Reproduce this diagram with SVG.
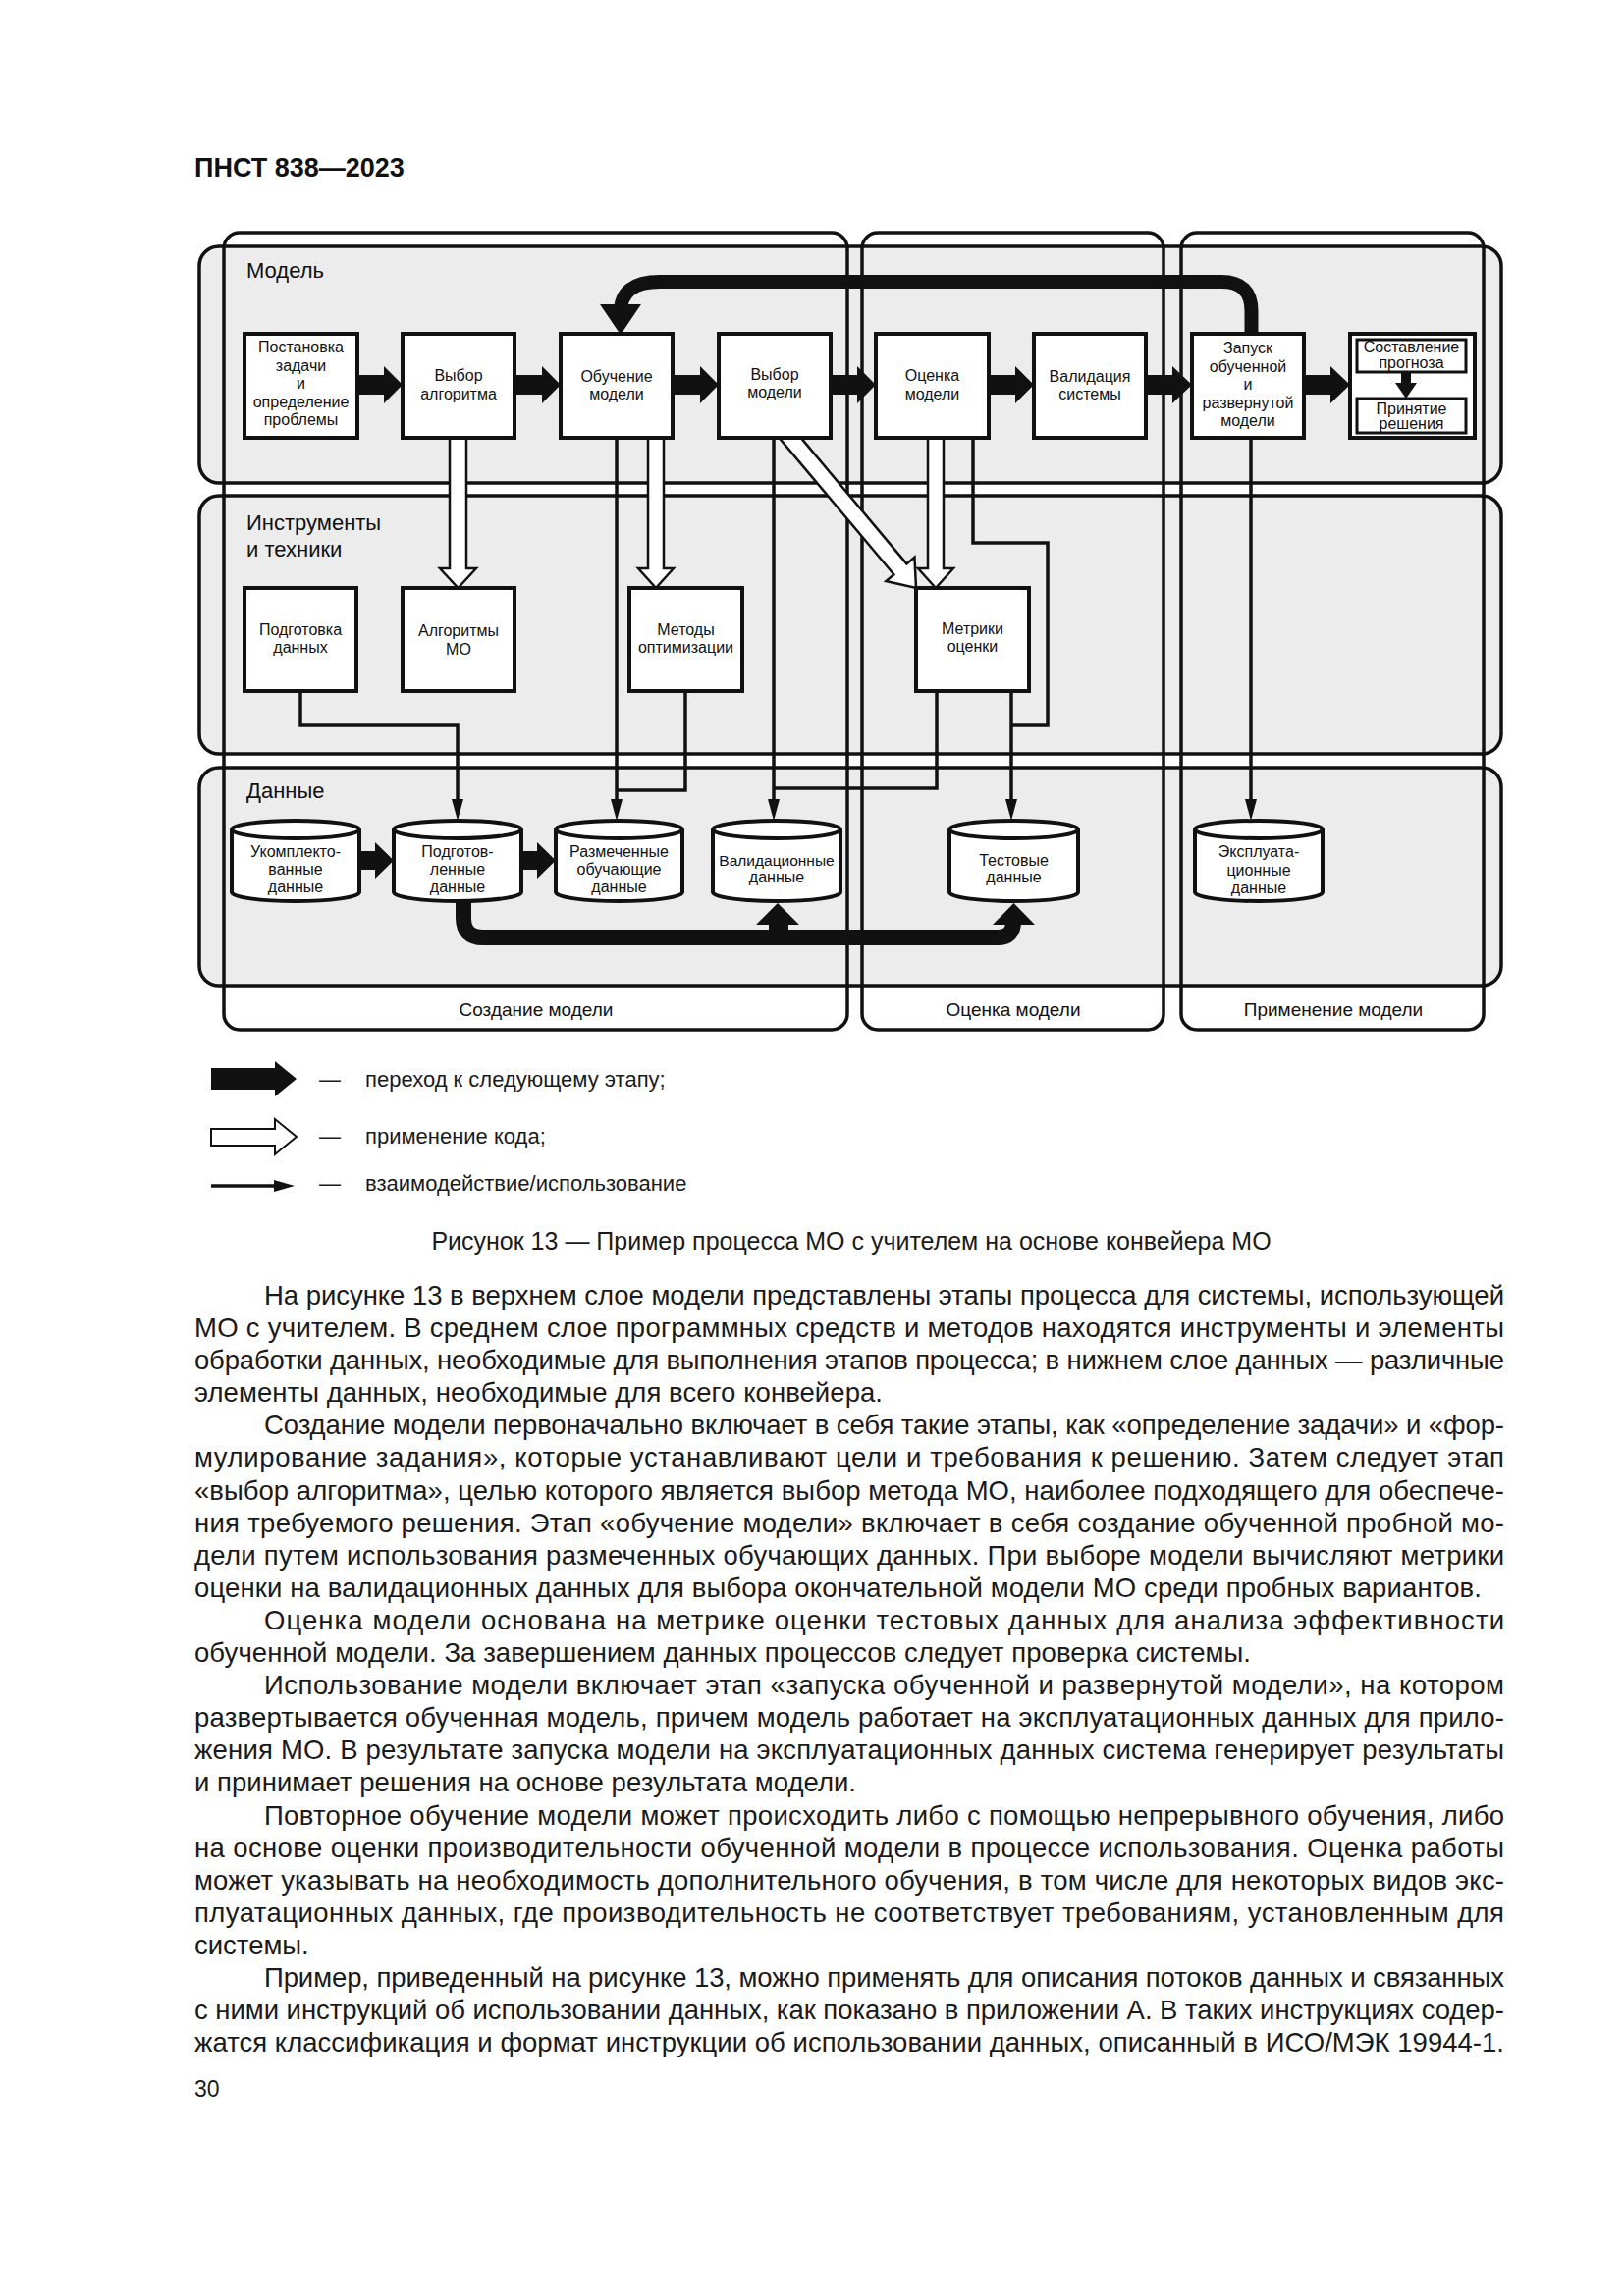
<svg xmlns="http://www.w3.org/2000/svg" width="1654" height="2339" viewBox="0 0 1654 2339">
<defs>
<style>
text{font-family:"Liberation Sans",Arial,"DejaVu Sans",sans-serif;fill:#111}
.colbg{fill:#fff;stroke:none}
.col{fill:none;stroke:#111;stroke-width:3.5}
.row{fill:#ececec;stroke:#111;stroke-width:3.5}
.box{fill:#fff;stroke:#111;stroke-width:4}
.ibox{fill:#fff;stroke:#111;stroke-width:3}
.cyl{fill:#fff;stroke:#111;stroke-width:4}
.cylt{fill:none;stroke:#111;stroke-width:4}
.lbl{font-size:16px;text-anchor:middle}
.big{font-size:22px}
.collbl{font-size:19px;text-anchor:middle}
.thick{fill:#111}
.hollow{fill:#fff;stroke:#111;stroke-width:2.5}
.thin{fill:none;stroke:#111;stroke-width:3.5;marker-end:url(#arr)}
.thinn{fill:none;stroke:#111;stroke-width:3.5}
.bar{fill:none;stroke:#111;stroke-width:14}
.bus{fill:none;stroke:#111;stroke-width:16}
.body{font-size:27.5px;fill:#1a1a1a}
.leg{font-size:22px;fill:#1a1a1a}
</style>
<marker id="arr" viewBox="0 0 22 12" markerWidth="22" markerHeight="12" refX="14" refY="6" orient="auto" markerUnits="userSpaceOnUse"><path d="M0,0 L22,6 L0,12 Z" fill="#111"/></marker>
</defs>
<rect width="1654" height="2339" fill="#fff"/>
<text x="198" y="180" style="font-size:27px;font-weight:bold">ПНСТ 838—2023</text>

<!-- layout: columns and rows -->
<g id="layout">
<rect class="colbg" x="228" y="237" width="635" height="812" rx="16"/>
<rect class="colbg" x="878" y="237" width="307" height="812" rx="16"/>
<rect class="colbg" x="1203" y="237" width="308" height="812" rx="16"/>
<rect class="row" x="203" y="251" width="1326" height="241" rx="20"/>
<rect class="row" x="203" y="505" width="1326" height="263" rx="20"/>
<rect class="row" x="203" y="782" width="1326" height="222" rx="20"/>
<rect class="col" x="228" y="237" width="635" height="812" rx="16"/>
<rect class="col" x="878" y="237" width="307" height="812" rx="16"/>
<rect class="col" x="1203" y="237" width="308" height="812" rx="16"/>
<text class="big" x="251" y="283">Модель</text>
<text class="big" x="251" y="540">Инструменты</text>
<text class="big" x="251" y="567">и техники</text>
<text class="big" x="251" y="813">Данные</text>
<text class="collbl" x="546" y="1035">Создание модели</text>
<text class="collbl" x="1032" y="1035">Оценка модели</text>
<text class="collbl" x="1358" y="1035">Применение модели</text>
</g>

<!-- connectors -->
<g id="connectors">
<path class="thin" d="M306,704 V739 H466 V828"/>
<path class="thin" d="M628,446 V828"/>
<path class="thinn" d="M698,704 V805 H628"/>
<path class="thin" d="M788,446 V828"/>
<path class="thinn" d="M954,704 V803 H788"/>
<path class="thinn" d="M991,446 V553 H1067 V739 H1030"/>
<path class="thin" d="M1030,704 V828"/>
<path class="thin" d="M1274,446 V828"/>
<path class="hollow" d="M458,444 H475 V579 H485 L466.5,599 L448,579 H458 Z"/>
<path class="hollow" d="M660,444 H676 V579 H686 L668,599 L650,579 H660 Z"/>
<path class="hollow" d="M945,444 H961 V579 H971 L953,599 L935,579 H945 Z"/>
<path class="hollow" transform="translate(933,599) rotate(-40)" d="M-8.5,-212 H8.5 V-25 H19 L0,0 L-19,-25 H-8.5 Z"/>
<polygon class="thick" points="364,382 391,382 391,373 410,392 391,411 391,402 364,402"/>
<polygon class="thick" points="524,382 552,382 552,373 571,392 552,411 552,402 524,402"/>
<polygon class="thick" points="685,382 713,382 713,373 732,392 713,411 713,402 685,402"/>
<polygon class="thick" points="846,382 873,382 873,373 892,392 873,411 873,402 846,402"/>
<polygon class="thick" points="1007,382 1034,382 1034,373 1053,392 1034,411 1034,402 1007,402"/>
<polygon class="thick" points="1167,382 1194,382 1194,373 1214,392 1194,411 1194,402 1167,402"/>
<polygon class="thick" points="1328,382 1355,382 1355,373 1375,392 1355,411 1355,402 1328,402"/>
<path class="bar" d="M1274.5,343 V317 Q1274.5,287 1244,287 H672 Q632,287 632,318"/>
<polygon class="thick" points="611,310 653,310 632,341"/>
<polygon class="thick" points="366,867 382,867 382,858 401,876.5 382,895 382,886 366,886"/>
<polygon class="thick" points="531,867 547,867 547,858 566,876.5 547,895 547,886 531,886"/>
<path class="bus" d="M472,912 V935 Q472,955 492,955 H1016 Q1032,955 1032,939"/>
<polygon class="thick" points="1011,942 1054,942 1032.5,920"/>
<rect class="thick" x="783" y="940" width="20" height="16"/>
<polygon class="thick" points="770,942 814,942 792,920"/>
</g>

<!-- model layer nodes -->
<g id="n-postanovka">
<rect class="box" x="249" y="340" width="115" height="106"/>
<text class="lbl" x="306.5" y="359">Постановка</text>
<text class="lbl" x="306.5" y="378">задачи</text>
<text class="lbl" x="306.5" y="396">и</text>
<text class="lbl" x="306.5" y="415">определение</text>
<text class="lbl" x="306.5" y="433">проблемы</text>
</g>
<g id="n-vybor-algoritma">
<rect class="box" x="410" y="340" width="114" height="106"/>
<text class="lbl" x="467" y="388">Выбор</text>
<text class="lbl" x="467" y="407">алгоритма</text>
</g>
<g id="n-obuchenie">
<rect class="box" x="571" y="340" width="114" height="106"/>
<text class="lbl" x="628" y="389">Обучение</text>
<text class="lbl" x="628" y="407">модели</text>
</g>
<g id="n-vybor-modeli">
<rect class="box" x="732" y="340" width="114" height="106"/>
<text class="lbl" x="789" y="387">Выбор</text>
<text class="lbl" x="789" y="405">модели</text>
</g>
<g id="n-ocenka">
<rect class="box" x="892" y="340" width="115" height="106"/>
<text class="lbl" x="949.5" y="388">Оценка</text>
<text class="lbl" x="949.5" y="407">модели</text>
</g>
<g id="n-validaciya">
<rect class="box" x="1053" y="340" width="114" height="106"/>
<text class="lbl" x="1110" y="389">Валидация</text>
<text class="lbl" x="1110" y="407">системы</text>
</g>
<g id="n-zapusk">
<rect class="box" x="1214" y="340" width="114" height="106"/>
<text class="lbl" x="1271" y="360">Запуск</text>
<text class="lbl" x="1271" y="379">обученной</text>
<text class="lbl" x="1271" y="397">и</text>
<text class="lbl" x="1271" y="416">развернутой</text>
<text class="lbl" x="1271" y="434">модели</text>
</g>
<g id="n-prognoz-reshenie">
<rect class="box" x="1375" y="340" width="127" height="106"/>
<rect class="ibox" x="1382" y="346" width="111" height="33"/>
<text class="lbl" x="1437.5" y="359">Составление</text>
<text class="lbl" x="1437.5" y="375">прогноза</text>
<polygon class="thick" points="1427,379 1437,379 1437,390 1443,390 1432,406 1421,390 1427,390"/>
<rect class="ibox" x="1382" y="406" width="111" height="35"/>
<text class="lbl" x="1437.5" y="422">Принятие</text>
<text class="lbl" x="1437.5" y="437">решения</text>
</g>

<!-- tools layer nodes -->
<g id="n-podgotovka">
<rect class="box" x="249" y="599" width="114" height="105"/>
<text class="lbl" x="306" y="647">Подготовка</text>
<text class="lbl" x="306" y="665">данных</text>
</g>
<g id="n-algoritmy">
<rect class="box" x="410" y="599" width="114" height="105"/>
<text class="lbl" x="467" y="648">Алгоритмы</text>
<text class="lbl" x="467" y="667">МО</text>
</g>
<g id="n-metody">
<rect class="box" x="641" y="599" width="115" height="105"/>
<text class="lbl" x="698.5" y="647">Методы</text>
<text class="lbl" x="698.5" y="665">оптимизации</text>
</g>
<g id="n-metriki">
<rect class="box" x="933" y="599" width="115" height="105"/>
<text class="lbl" x="990.5" y="646">Метрики</text>
<text class="lbl" x="990.5" y="664">оценки</text>
</g>

<!-- data layer nodes -->
<g id="n-ukomplekt">
<path class="cyl" d="M236,845 A65,9 0 0 1 366,845 V909 A65,9 0 0 1 236,909 Z"/>
<path class="cylt" d="M236,845 A65,9 0 0 0 366,845"/>
<text class="lbl" x="301" y="873">Укомплекто-</text>
<text class="lbl" x="301" y="891">ванные</text>
<text class="lbl" x="301" y="909">данные</text>
</g>
<g id="n-podgotovlennye">
<path class="cyl" d="M401,845 A65,9 0 0 1 531,845 V909 A65,9 0 0 1 401,909 Z"/>
<path class="cylt" d="M401,845 A65,9 0 0 0 531,845"/>
<text class="lbl" x="466" y="873">Подготов-</text>
<text class="lbl" x="466" y="891">ленные</text>
<text class="lbl" x="466" y="909">данные</text>
</g>
<g id="n-razmechennye">
<path class="cyl" d="M566,845 A64.5,9 0 0 1 695,845 V909 A64.5,9 0 0 1 566,909 Z"/>
<path class="cylt" d="M566,845 A64.5,9 0 0 0 695,845"/>
<text class="lbl" x="630.5" y="873">Размеченные</text>
<text class="lbl" x="630.5" y="891">обучающие</text>
<text class="lbl" x="630.5" y="909">данные</text>
</g>
<g id="n-validacionnye">
<path class="cyl" d="M726,845 A65,9 0 0 1 856,845 V909 A65,9 0 0 1 726,909 Z"/>
<path class="cylt" d="M726,845 A65,9 0 0 0 856,845"/>
<text class="lbl" x="791" y="882" style="font-size:15.5px">Валидационные</text>
<text class="lbl" x="791" y="899">данные</text>
</g>
<g id="n-testovye">
<path class="cyl" d="M967,845 A65.5,9 0 0 1 1098,845 V909 A65.5,9 0 0 1 967,909 Z"/>
<path class="cylt" d="M967,845 A65.5,9 0 0 0 1098,845"/>
<text class="lbl" x="1032.5" y="882">Тестовые</text>
<text class="lbl" x="1032.5" y="899">данные</text>
</g>
<g id="n-ekspluat">
<path class="cyl" d="M1217,845 A65,9 0 0 1 1347,845 V909 A65,9 0 0 1 1217,909 Z"/>
<path class="cylt" d="M1217,845 A65,9 0 0 0 1347,845"/>
<text class="lbl" x="1282" y="873">Эксплуата-</text>
<text class="lbl" x="1282" y="892">ционные</text>
<text class="lbl" x="1282" y="910">данные</text>
</g>

<!-- legend -->
<g id="legend">
<polygon class="thick" points="215,1088 280,1088 280,1081 302,1099 280,1117 280,1110 215,1110"/>
<text class="leg" x="325" y="1107">—</text>
<text class="leg" x="372" y="1107">переход к следующему этапу;</text>
<polygon class="hollow" style="stroke-width:2" points="215,1150 280,1150 280,1140 302,1158 280,1176 280,1167 215,1167"/>
<text class="leg" x="325" y="1165">—</text>
<text class="leg" x="372" y="1165">применение кода;</text>
<line x1="215" y1="1208" x2="282" y2="1208" stroke="#111" stroke-width="3.5"/>
<polygon class="thick" points="279,1202 300,1208 279,1214"/>
<text class="leg" x="325" y="1213">—</text>
<text class="leg" x="372" y="1213">взаимодействие/использование</text>
</g>
<text x="867" y="1273" style="font-size:25px;text-anchor:middle;fill:#1a1a1a">Рисунок 13 — Пример процесса МО с учителем на основе конвейера МО</text>

<!-- body text -->
<g id="bodytext" class="body">
<text class="body" x="269" y="1329" textLength="1263" lengthAdjust="spacing">На рисунке 13 в верхнем слое модели представлены этапы процесса для системы, использующей</text>
<text class="body" x="198" y="1362" textLength="1334" lengthAdjust="spacing">МО с учителем. В среднем слое программных средств и методов находятся инструменты и элементы</text>
<text class="body" x="198" y="1395" textLength="1334" lengthAdjust="spacing">обработки данных, необходимые для выполнения этапов процесса; в нижнем слое данных — различные</text>
<text class="body" x="198" y="1428" textLength="701" lengthAdjust="spacing">элементы данных, необходимые для всего конвейера.</text>
<text class="body" x="269" y="1461" textLength="1263" lengthAdjust="spacing">Создание модели первоначально включает в себя такие этапы, как «определение задачи» и «фор-</text>
<text class="body" x="198" y="1494" textLength="1334" lengthAdjust="spacing">мулирование задания», которые устанавливают цели и требования к решению. Затем следует этап</text>
<text class="body" x="198" y="1528" textLength="1334" lengthAdjust="spacing">«выбор алгоритма», целью которого является выбор метода МО, наиболее подходящего для обеспече-</text>
<text class="body" x="198" y="1561" textLength="1334" lengthAdjust="spacing">ния требуемого решения. Этап «обучение модели» включает в себя создание обученной пробной мо-</text>
<text class="body" x="198" y="1594" textLength="1334" lengthAdjust="spacing">дели путем использования размеченных обучающих данных. При выборе модели вычисляют метрики</text>
<text class="body" x="198" y="1627" textLength="1311" lengthAdjust="spacing">оценки на валидационных данных для выбора окончательной модели МО среди пробных вариантов.</text>
<text class="body" x="269" y="1660" textLength="1263" lengthAdjust="spacing">Оценка модели основана на метрике оценки тестовых данных для анализа эффективности</text>
<text class="body" x="198" y="1693" textLength="1076" lengthAdjust="spacing">обученной модели. За завершением данных процессов следует проверка системы.</text>
<text class="body" x="269" y="1726" textLength="1263" lengthAdjust="spacing">Использование модели включает этап «запуска обученной и развернутой модели», на котором</text>
<text class="body" x="198" y="1759" textLength="1334" lengthAdjust="spacing">развертывается обученная модель, причем модель работает на эксплуатационных данных для прило-</text>
<text class="body" x="198" y="1792" textLength="1334" lengthAdjust="spacing">жения МО. В результате запуска модели на эксплуатационных данных система генерирует результаты</text>
<text class="body" x="198" y="1825" textLength="674" lengthAdjust="spacing">и принимает решения на основе результата модели.</text>
<text class="body" x="269" y="1859" textLength="1263" lengthAdjust="spacing">Повторное обучение модели может происходить либо с помощью непрерывного обучения, либо</text>
<text class="body" x="198" y="1892" textLength="1334" lengthAdjust="spacing">на основе оценки производительности обученной модели в процессе использования. Оценка работы</text>
<text class="body" x="198" y="1925" textLength="1334" lengthAdjust="spacing">может указывать на необходимость дополнительного обучения, в том числе для некоторых видов экс-</text>
<text class="body" x="198" y="1958" textLength="1334" lengthAdjust="spacing">плуатационных данных, где производительность не соответствует требованиям, установленным для</text>
<text class="body" x="198" y="1991">системы.</text>
<text class="body" x="269" y="2024" textLength="1263" lengthAdjust="spacing">Пример, приведенный на рисунке 13, можно применять для описания потоков данных и связанных</text>
<text class="body" x="198" y="2057" textLength="1334" lengthAdjust="spacing">с ними инструкций об использовании данных, как показано в приложении А. В таких инструкциях содер-</text>
<text class="body" x="198" y="2090" textLength="1334" lengthAdjust="spacing">жатся классификация и формат инструкции об использовании данных, описанный в ИСО/МЭК 19944-1.</text>
</g>
<text x="198" y="2136" style="font-size:23px;fill:#1a1a1a">30</text>
</svg>
